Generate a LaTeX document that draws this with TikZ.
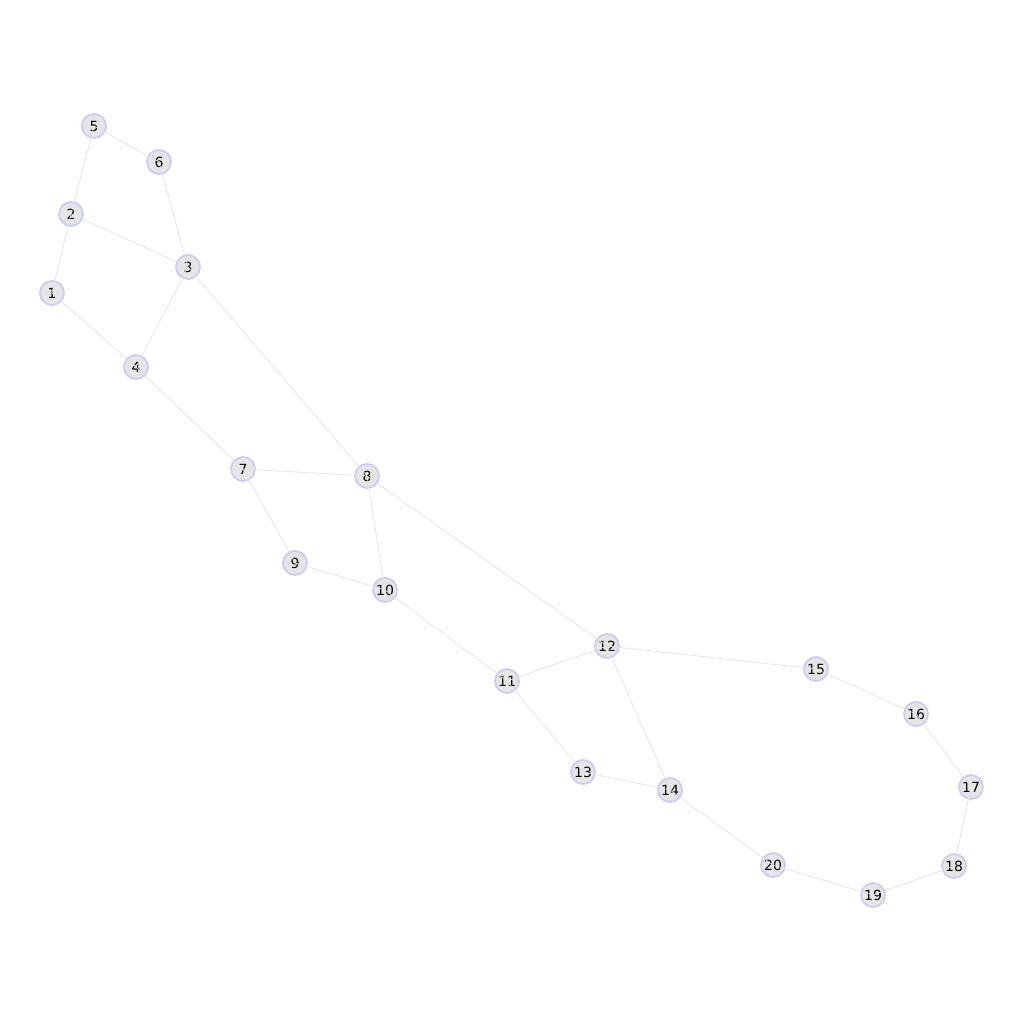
\documentclass[tikz,border=0pt]{standalone}
\usepackage{fontspec}
\setmainfont{DejaVu Sans}
\usepackage{xcolor}
\usepackage{tikz}
\definecolor{nodefill}{HTML}{E6E6E6}
\definecolor{noderim}{HTML}{CCCCF4}
\definecolor{edgegray}{HTML}{E2E2E2}

\begin{document}
\begin{tikzpicture}[x=1pt, y=-1pt, vertex/.style={circle, draw=noderim, fill=nodefill, line width=1.8pt, minimum size=24pt, inner sep=0pt, font=\fontsize{14}{14}\selectfont}, link/.style={draw=edgegray, line width=0.7pt}]
    \useasboundingbox (0,0) rectangle (1024,1024);
    \node (n1) [vertex] at (52,293) {1};
    \node (n2) [vertex] at (71,214) {2};
    \node (n3) [vertex] at (188,267) {3};
    \node (n4) [vertex] at (136,367) {4};
    \node (n5) [vertex] at (94,126) {5};
    \node (n6) [vertex] at (159,162) {6};
    \node (n7) [vertex] at (243,469) {7};
    \node (n8) [vertex] at (367,476) {8};
    \node (n9) [vertex] at (295,563) {9};
    \node (n10) [vertex] at (385,590) {10};
    \node (n11) [vertex] at (507,681) {11};
    \node (n12) [vertex] at (607,646) {12};
    \node (n13) [vertex] at (583,772) {13};
    \node (n14) [vertex] at (670,790) {14};
    \node (n15) [vertex] at (816,669) {15};
    \node (n16) [vertex] at (916,714) {16};
    \node (n17) [vertex] at (971,787) {17};
    \node (n18) [vertex] at (954,866) {18};
    \node (n19) [vertex] at (873,895) {19};
    \node (n20) [vertex] at (773,865) {20};

    \foreach \a/\b in {5/6, 5/2, 6/3, 2/3, 2/1, 1/4, 3/4, 3/8, 4/7, 7/8, 7/9, 8/10, 9/10, 8/12, 10/11, 11/12, 11/13, 12/14, 13/14, 12/15, 15/16, 16/17, 17/18, 18/19, 19/20, 20/14}
        \draw [link] (n\a.center) -- (n\b.center);
\end{tikzpicture}
\end{document}
